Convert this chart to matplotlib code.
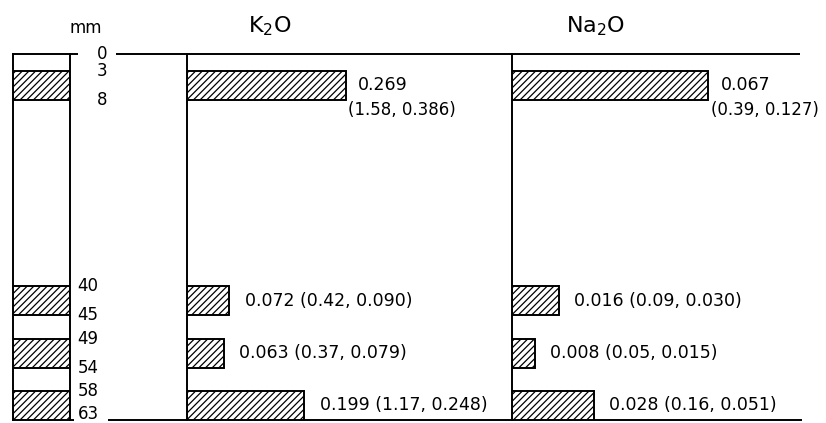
import matplotlib
matplotlib.use("Agg")
import matplotlib.pyplot as plt

# ---- data ----
depth_top = [3, 40, 49, 58]
depth_bottom = [8, 45, 54, 63]
depth_ticks = [0, 3, 8, 40, 45, 49, 54, 58, 63]

k2o = [0.269, 0.072, 0.063, 0.199]
k2o_lo = [1.58, 0.42, 0.37, 1.17]
k2o_hi = [0.386, 0.090, 0.079, 0.248]

na2o = [0.067, 0.016, 0.008, 0.028]
na2o_lo = [0.39, 0.09, 0.05, 0.16]
na2o_hi = [0.127, 0.030, 0.015, 0.051]

panel_titles = ["K$_2$O", "Na$_2$O"]
unit_label = "mm"

# ---- style ----
plt.rcParams['font.family'] = ['DejaVu Sans']
plt.rcParams['hatch.linewidth'] = 0.9
plt.rcParams['mathtext.fontset'] = 'dejavusans'

W, H = 826, 423
fig = plt.figure(figsize=(W / 100, H / 100), dpi=100)

Y_TOP, Y_BOT = 54, 420  # pixel rows of depth 0 and 63


def add_ax(x0, x1):
    return fig.add_axes([x0 / W, 1 - Y_BOT / H, (x1 - x0) / W, (Y_BOT - Y_TOP) / H])


LW = 1.4
TXT = 12.5
HATCH = '/////'

# overlay for frame lines
ov = fig.add_axes([0, 0, 1, 1], zorder=0)
ov.set_xlim(0, W)
ov.set_ylim(H, 0)
ov.axis('off')
ov.plot([12, 78], [Y_TOP, Y_TOP], color='black', lw=LW, solid_capstyle='butt')
ov.plot([116, 800], [Y_TOP, Y_TOP], color='black', lw=LW, solid_capstyle='butt')
ov.plot([12, 74], [Y_BOT, Y_BOT], color='black', lw=LW, solid_capstyle='butt')
ov.plot([108, 802], [Y_BOT, Y_BOT], color='black', lw=LW, solid_capstyle='butt')
ov.text(86, 28, unit_label, ha='center', va='center', fontsize=12)

# core column
core = add_ax(13, 70)
core.set_facecolor('none')
core.set_xlim(0, 1)
core.set_ylim(63, 0)
for s in ['top', 'bottom']:
    core.spines[s].set_visible(False)
for s in ['left', 'right']:
    core.spines[s].set_linewidth(LW)
core.set_xticks([])
core.set_yticks([])
heights = [b - t for t, b in zip(depth_top, depth_bottom)]
core.barh(depth_top, [1] * len(depth_top), height=heights, align='edge',
          left=0, facecolor='white', edgecolor='black', hatch=HATCH, lw=LW)
for d in depth_ticks:
    xpx = 102 if d < 10 else 88
    yd = min(d, 62.0)
    core.annotate(str(d), xy=((xpx - 13) / 57, yd), xycoords=('axes fraction', 'data'),
                  ha='center', va='center', fontsize=12, annotation_clip=False)


def panel(x0, x1, xmax, vals, lo, hi, title, title_x):
    ax = add_ax(x0, x1)
    ax.set_facecolor('none')
    ax.set_xlim(0, xmax)
    ax.set_ylim(63, 0)
    for s in ['top', 'bottom', 'right']:
        ax.spines[s].set_visible(False)
    ax.spines['left'].set_linewidth(LW)
    ax.set_xticks([])
    ax.set_yticks([])
    ax.barh(depth_top, vals, height=heights, align='edge', left=0,
            facecolor='white', edgecolor='black', hatch=HATCH, lw=LW)
    for i, (v, a, b) in enumerate(zip(vals, lo, hi)):
        t, bt = depth_top[i], depth_bottom[i]
        mid = (t + bt) / 2
        if i == 0:
            ax.annotate(f"{v:.3f}", xy=(v, mid - 0.2), xytext=(9, 0),
                        textcoords='offset points', ha='left', va='center',
                        fontsize=TXT, annotation_clip=False)
            ax.annotate(f"({a:.2f}, {b:.3f})", xy=(v, bt + 1.6), xytext=(2, 0),
                        textcoords='offset points', ha='left', va='center',
                        fontsize=12, annotation_clip=False)
        else:
            ax.annotate(f"{v:.3f} ({a:.2f}, {b:.3f})", xy=(v, mid), xytext=(11, 0),
                        textcoords='offset points', ha='left', va='center',
                        fontsize=TXT, annotation_clip=False)
    ov.text(title_x, 26, title, ha='center', va='center', fontsize=16)
    return ax


panel(187, 511, (511 - 187) / 590, k2o, k2o_lo, k2o_hi, panel_titles[0], 270)
panel(511.7, 826, (826 - 511.7) / 2930, na2o, na2o_lo, na2o_hi, panel_titles[1], 596)

fig.savefig("out.png", dpi=100)
